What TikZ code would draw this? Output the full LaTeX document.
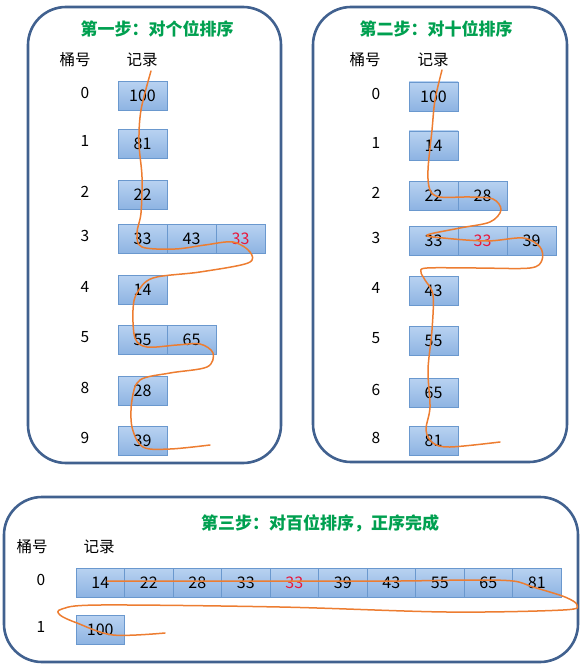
\documentclass[tikz,border=0pt]{standalone}
\usepackage{fontspec}
\setmainfont{Noto Sans CJK SC}
\definecolor{frameblue}{HTML}{41618F}
\definecolor{boxtop}{HTML}{B8D2F1}
\definecolor{boxbot}{HTML}{8DB3E2}
\definecolor{boxline}{HTML}{6A98CE}
\definecolor{traceorange}{HTML}{ED7D31}
\definecolor{stepgreen}{HTML}{00A050}
\definecolor{hotred}{HTML}{E8183C}
\newcommand\hotnum[1]{\textcolor{hotred}{#1}}
\tikzset{
  panel/.style={draw=frameblue, line width=2.6pt, rounded corners=38pt},
  rec/.style={draw=boxline, line width=0.8pt, top color=boxtop, bottom color=boxbot,
    minimum width=49pt, minimum height=29pt, inner sep=0pt, font=\fontsize{16}{16}\selectfont},
  bkt/.style={font=\fontsize{15.5}{15.5}\selectfont},
  ttl/.style={text=stepgreen, font=\fontsize{17}{17}\selectfont\bfseries},
  wave/.style={draw=traceorange, line width=1.5pt, line cap=round, line join=round}
}
\begin{document}
\begin{tikzpicture}[x=1pt, y=-1pt]
  \useasboundingbox (0,0) rectangle (585,671);
  % frames
  \draw[panel] (28,7) rectangle (281,463);
  \draw[panel] (313,7) rectangle (567,462);
  \draw[panel] (4,497) rectangle (578,662);
  % step 1: ones digit
  \node[ttl] (t1) at (157,29) {第一步：对个位排序};
  \node[bkt] (h1) at (75,60) {桶号};
  \node[bkt] (r1) at (142,60) {记录};
  \foreach \b/\y/\recs in {0/96/{100},1/144/{81},2/195/{22},3/239/{33,43,\hotnum{33}},
      4/290/{14},5/340/{55,65},8/391/{28},9/441/{39}}{
    \node[bkt] (lb\b) at (85,\y-3) {\b};
    \foreach \v [count=\i] in \recs
      \node[rec] (lr\b-\i) at (142.5+49*\i-49,\y) {\v};
  }
  % step 2: tens digit
  \node[ttl] (t2) at (436,29) {第二步：对十位排序};
  \node[bkt] (h2) at (365,60) {桶号};
  \node[bkt] (r2) at (433,60) {记录};
  \foreach \b/\y/\recs in {0/96.5/{100},1/145.5/{14},2/195.5/{22,28},3/240.5/{33,\hotnum{33},39},
      4/291/{43},5/341/{55},6/393/{65},8/440.5/{81}}{
    \node[bkt] (rb\b) at (376,\y-3) {\b};
    \foreach \v [count=\i] in \recs
      \node[rec] (rr\b-\i) at (433.5+49*\i-49,\y) {\v};
  }
  % step 3: hundreds digit
  \node[ttl] (t3) at (320,523) {第三步：对百位排序，正序完成};
  \node[bkt] (h3) at (32,547) {桶号};
  \node[bkt] (r3) at (99,547) {记录};
  \node[bkt] (bb0) at (41,580) {0};
  \node[bkt] (bb1) at (41,627) {1};
  \foreach \v [count=\i] in {14,22,28,33,\hotnum{33},39,43,55,65,81}
    \node[rec, minimum width=48.5pt] (br0-\i) at (100.25+48.5*\i-48.5,582.5) {\v};
  \node[rec, minimum width=48.5pt] (br1-1) at (100.25,630) {100};
  % collecting order
  \draw[wave] plot[smooth, tension=0.55] coordinates {(151,71) (141,110) (139,143) (142,177)
    (141,213) (137,233) (142,247) (175,249) (205,245) (233,242) (250,252) (248,263)
    (200,272) (153,278) (137,293) (133,310) (135,338) (147,347) (177,345) (200,344)
    (213,353) (207,367) (170,373) (140,380) (132,400) (132,427) (143,447) (170,449) (210,445)};
  \draw[wave] plot[smooth, tension=0.55] coordinates {(442,70) (435,100) (432,130) (428,170)
    (430,190) (440,197) (470,197) (493,199) (501,210) (490,222) (460,228) (427,235)
    (443,238) (487,241) (523,238) (540,247) (542,260) (530,268) (477,268) (427,268)
    (421,272) (425,280) (433,295) (432,330) (428,370) (430,407) (426,430) (433,443)
    (450,447) (500,442)};
  \draw[wave] plot[smooth, tension=0.55] coordinates {(107,581) (200,581) (300,581) (400,581)
    (470,580) (513,581) (533,587) (565,597) (577,605) (563,610) (447,612) (280,607)
    (100,605) (62,609) (60,615) (77,623) (113,635) (165,633)};
\end{tikzpicture}
\end{document}
